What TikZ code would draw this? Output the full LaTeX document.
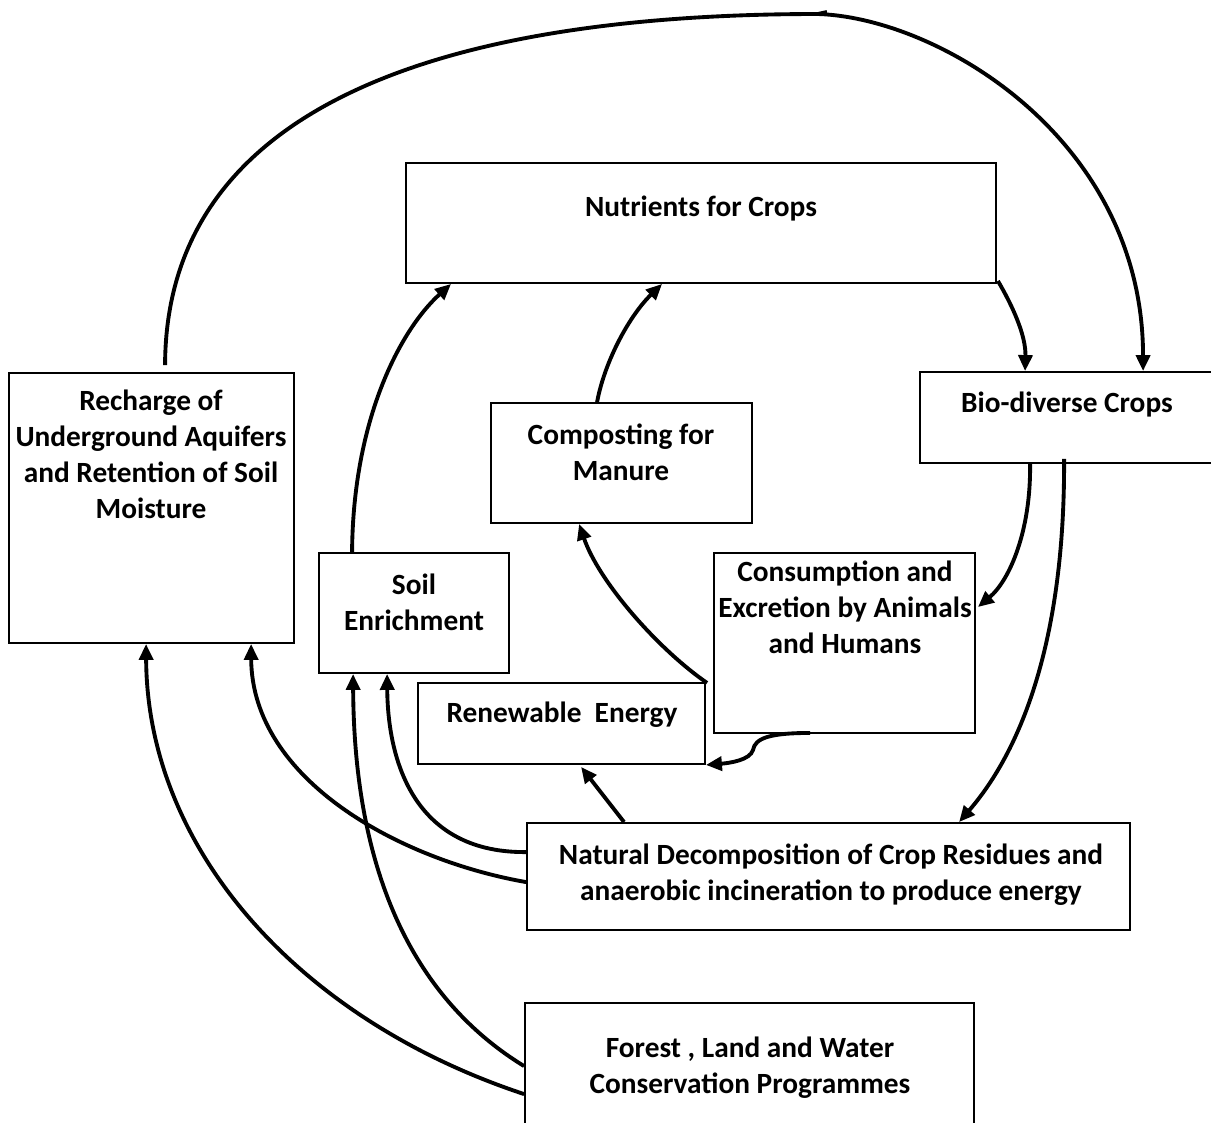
\documentclass[tikz,border=0pt]{standalone}
\usepackage{fontspec}
\setmainfont{Carlito}
\usetikzlibrary{arrows.meta,calc,fit}
\begin{document}
\begin{tikzpicture}[x=0.75pt,y=-0.75pt,
  box/.style={draw, line width=1.4pt, rectangle, inner sep=0pt},
  lbl/.style={font=\bfseries\fontsize{22}{27}\selectfont, align=center, inner sep=0pt, anchor=base},
  arr/.style={line width=2.9pt, -{Triangle[length=12pt,width=10.5pt]}},
  ln/.style={line width=2.9pt}]
\useasboundingbox (0,0) rectangle (1211,1122);
% boxes
\node[box, fit={(406,163) (996,283)}] (nut) {};
\node[box, fit={(920,372) (1220,463)}] (bio) {};
\node[box, fit={(9,373) (294,643)}] (rech) {};
\node[box, fit={(491,403) (752,523)}] (comp) {};
\node[box, fit={(319,553) (509,673)}] (soil) {};
\node[box, fit={(714,553) (975,733)}] (cons) {};
\node[box, fit={(418,683) (705,764)}] (ren) {};
\node[box, fit={(527,823) (1130,930)}] (nat) {};
\node[box, fit={(525,1003) (974,1140)}] (forest) {};
% labels (anchor = baseline of last line)
\node[lbl] (nutT) at (701,216) {Nutrients for Crops};
\node[lbl] (bioT) at (1067,412) {Bio-diverse Crops};
\node[lbl] (rechT) at (151,518) {Recharge of\\Underground Aquifers\\and Retention of Soil\\Moisture};
\node[lbl] (compT) at (621,480) {Composting for\\Manure};
\node[lbl] (soilT) at (414,630) {Soil\\Enrichment};
\node[lbl] (consT) at (845,653) {Consumption and\\Excretion by Animals\\and Humans};
\node[lbl] (renT) at (562,722) {Renewable\ \ Energy};
\node[lbl] (natT) at (831,900) {Natural Decomposition of Crop Residues and\\anaerobic incineration to produce energy};
\node[lbl] (forestT) at (750,1093) {Forest , Land and Water\\Conservation Programmes};
% connectors
\coordinate (peak) at (818,14);
\draw[arr] ($(rech.north west)+(157,-7)$) .. controls (166,80) and (500,14) .. (peak)
  .. controls (940,18) and (1143,140) .. ($(bio.north west)+(224,0)$);
\draw[ln] (peak) -- ++(9,-2);
\draw[arr] ($(nut.south east)+(1,-3)$) .. controls (1012,305) and (1026,335) .. ($(bio.north west)+(106,0)$);
\draw[arr] ($(soil.north west)+(34,0)$) .. controls (353,420) and (400,330) .. ($(nut.south west)+(46,0)$);
\draw[arr] ($(comp.north west)+(107,0)$) .. controls (605,360) and (630,315) .. ($(nut.south west)+(257,0)$);
\draw[arr] ($(bio.south west)+(111,0)$) .. controls (1031,530) and (1010,580) .. ($(cons.north east)+(2,55)$);
\draw[arr] ($(bio.south west)+(145,-5)$) .. controls (1065,620) and (1030,740) .. ($(nat.north west)+(433,0)$);
\draw[arr] ($(cons.south west)+(-6,-51)$) .. controls (658,649) and (599,582) .. ($(comp.south west)+(89,0)$);
\draw[arr] ($(cons.south west)+(97,-1)$) .. controls (770,733) and (755,738) .. (753,750)
  .. controls (750,760) and (730,763) .. (ren.south east);
\draw[arr] ($(nat.north west)+(98,0)$) -- ($(ren.south west)+(164,2)$);
\draw[arr] ($(nat.north west)+(0,30)$) .. controls (420,853) and (388,770) .. ($(soil.south west)+(69,0)$);
\draw[arr] ($(nat.north west)+(0,60)$) .. controls (400,860) and (252,780) .. ($(rech.south west)+(243,0)$);
\draw[arr] ($(forest.north west)+(0,64)$) .. controls (400,990) and (354,850) .. ($(soil.south west)+(35,0)$);
\draw[arr] ($(forest.north west)+(0,92)$) .. controls (300,1020) and (147,850) .. ($(rech.south west)+(138,0)$);
\end{tikzpicture}
\end{document}
